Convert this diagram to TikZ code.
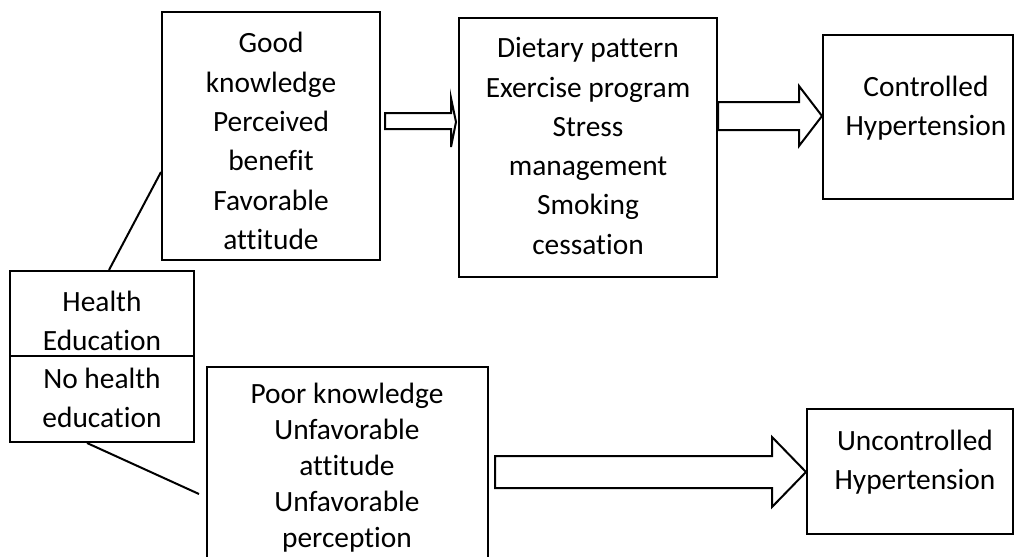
\documentclass[tikz,border=0pt]{standalone}
\usepackage{fontspec}
\setmainfont[Ligatures={NoCommon}]{Carlito}
\usetikzlibrary{calc}
\tikzset{
  box/.style={draw=black, line width=2pt, rectangle, inner sep=0pt},
  txt/.style={align=center, inner sep=0pt, font=\fontsize{29.4}{39.3}\selectfont},
  txtd/.style={align=center, inner sep=0pt, font=\fontsize{29.4}{36}\selectfont},
  link/.style={draw=black, line width=2pt},
  blockarrow/.style={draw=black, line width=2pt, fill=white, line join=miter},
}
\newcommand{\boxat}[6]{\node[box, minimum width=#4-#2, minimum height=#5-#3] (#1) at ({(#2+#4)/2},{(#3+#5)/2}) {#6};}
\begin{document}
\begin{tikzpicture}[x=1pt,y=-1pt]
\useasboundingbox (0,0) rectangle (1023,557);
\clip (0,0) rectangle (1023,557);
\fill[white] (0,0) rectangle (1023,557);
% boxes
\boxat{a}{162}{12}{380}{260}{}
\boxat{b}{459}{18}{717}{277}{}
\boxat{c}{823}{35}{1013}{199}{}
\boxat{he}{10}{271}{194}{356}{}
\boxat{nhe}{10}{356}{194}{442}{}
\boxat{d}{207}{367}{488}{580}{}
\boxat{e}{807}{409}{1013}{534}{}
% texts
\node[txt] (at) at (271,141) {Good\\knowledge\\Perceived\\benefit\\Favorable\\attitude};
\node[txt] (bt) at (588,146) {Dietary pattern\\Exercise program\\Stress\\management\\Smoking\\cessation};
\node[txt] (ct) at (926,108) {Controlled\\Hypertension};
\node[txt] (het) at (102,321) {Health\\Education};
\node[txt] (nhet) at (102,398) {No health\\education};
\node[txtd] (dt) at (347,468) {Poor knowledge\\Unfavorable\\attitude\\Unfavorable\\perception};
\node[txt] (et) at (915,462) {Uncontrolled\\Hypertension};
% connectors
\draw[link] ($(he.north west)+(100,0)$) -- ($(a.north west)+(0,161)$);
\draw[link] ($(nhe.south west)+(78,0)$) -- ($(d.north west)+(-7,128)$);
% block arrows
\draw[blockarrow] ($(a.east)+(4,-23)$) coordinate (a1)
  -- ($(b.west)+(-7,-34.5)$) -- ($(b.west)+(-7,-49.5)$) -- ($(b.west)+(-2,-25.5)$)
  -- ($(b.west)+(-7,-0.5)$) -- ($(b.west)+(-7,-18.5)$) -- ($(a.east)+(4,-7)$) -- cycle;
\draw[blockarrow] ($(b.east)+(0,-45.5)$)
  -- ($(c.west)+(-23,-15)$) -- ($(c.west)+(-23,-31)$) -- ($(c.west)+(0,-1)$)
  -- ($(c.west)+(-23,29)$) -- ($(c.west)+(-23,13)$) -- ($(b.east)+(0,-17.5)$) -- cycle;
\draw[blockarrow] ($(d.east)+(6,-17.5)$)
  -- ($(e.west)+(-34,-15.5)$) -- ($(e.west)+(-34,-34.5)$) -- ($(e.west)+(0,0.5)$)
  -- ($(e.west)+(-34,35.5)$) -- ($(e.west)+(-34,16.5)$) -- ($(d.east)+(6,14.5)$) -- cycle;
\end{tikzpicture}
\end{document}
